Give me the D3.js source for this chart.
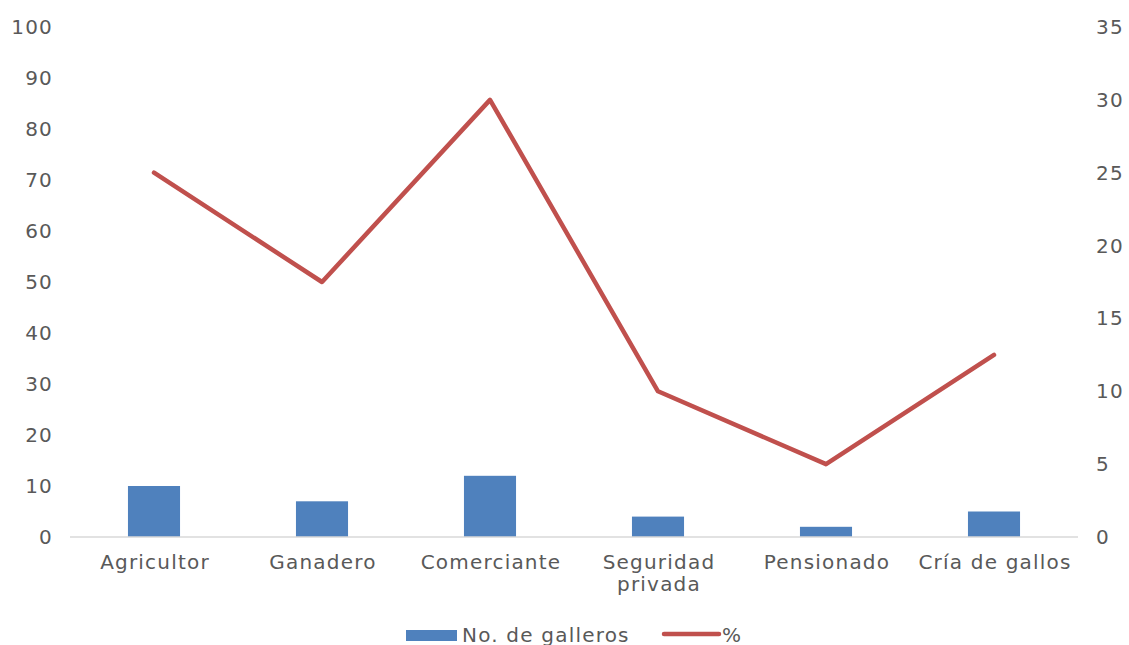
<!DOCTYPE html>
<html>
<head>
<meta charset="utf-8">
<script src="https://cdn.jsdelivr.net/npm/d3@7"></script>
<style>
  body { margin: 0; background: #fff; }
  svg text { font-family: "DejaVu Sans", sans-serif; fill: #595959; letter-spacing: 1.2px; }
</style>
</head>
<body>
<svg id="chart" width="1129" height="645"></svg>
<script>
const categories = ['Agricultor', 'Ganadero', 'Comerciante', 'Seguridad privada', 'Pensionado', 'Cría de gallos'];
const galleros = [10, 7, 12, 4, 2, 5];
const percent = [25, 17.5, 30, 10, 5, 12.5];
const leftTicks = [0, 10, 20, 30, 40, 50, 60, 70, 80, 90, 100];
const rightTicks = [0, 5, 10, 15, 20, 25, 30, 35];

const M = { top: 27, right: 51, bottom: 108, left: 70 };
const W = 1129, H = 645;
const FS = 20;
const svg = d3.select('#chart');

const x = d3.scaleBand().domain(categories).range([M.left, W - M.right]);
const yL = d3.scaleLinear().domain([0, 100]).range([H - M.bottom, M.top]);
const yR = d3.scaleLinear().domain([0, 35]).range([H - M.bottom, M.top]);
const barW = x.bandwidth() * 0.31;

// left axis labels
svg.append('g').selectAll('text').data(leftTicks).enter().append('text')
  .attr('x', 53).attr('y', d => yL(d)).attr('dy', '0.35em')
  .attr('text-anchor', 'end').attr('font-size', FS).text(d => d);

// right axis labels
svg.append('g').selectAll('text').data(rightTicks).enter().append('text')
  .attr('x', 1096).attr('y', d => yR(d)).attr('dy', '0.35em')
  .attr('text-anchor', 'start').attr('font-size', FS).text(d => d);

// bars
svg.append('g').selectAll('rect').data(categories).enter().append('rect')
  .attr('x', d => x(d) + (x.bandwidth() - barW) / 2)
  .attr('y', (d, i) => yL(galleros[i]))
  .attr('width', barW)
  .attr('height', (d, i) => yL(0) - yL(galleros[i]))
  .attr('fill', '#4f81bd');

// baseline
svg.append('line')
  .attr('x1', M.left).attr('x2', W - M.right)
  .attr('y1', yL(0)).attr('y2', yL(0))
  .attr('stroke', '#d9d9d9').attr('stroke-width', 1.5);

// category labels
const catG = svg.append('g');
categories.forEach(c => {
  const cx = x(c) + x.bandwidth() / 2 + 1;
  const t = catG.append('text')
    .attr('x', cx).attr('y', 569)
    .attr('text-anchor', 'middle').attr('font-size', FS);
  if (c === 'Seguridad privada') {
    t.append('tspan').attr('x', cx).text('Seguridad');
    t.append('tspan').attr('x', cx).attr('dy', 22).text('privada');
  } else {
    t.text(c);
  }
});

// line
const line = d3.line()
  .x((d, i) => x(categories[i]) + x.bandwidth() / 2)
  .y(d => yR(d));
svg.append('path').datum(percent)
  .attr('d', line)
  .attr('fill', 'none')
  .attr('stroke', '#c0504d')
  .attr('stroke-width', 4.5)
  .attr('stroke-linecap', 'round')
  .attr('stroke-linejoin', 'round');

// legend
const lg = svg.append('g');
lg.append('rect').attr('x', 406).attr('y', 630).attr('width', 51).attr('height', 11).attr('fill', '#4f81bd');
lg.append('text').attr('x', 462).attr('y', 642).attr('font-size', FS).text('No. de galleros');
lg.append('line').attr('x1', 664).attr('x2', 719).attr('y1', 634).attr('y2', 634)
  .attr('stroke', '#c0504d').attr('stroke-width', 4.5).attr('stroke-linecap', 'round');
lg.append('text').attr('x', 722).attr('y', 642).attr('font-size', FS).text('%');
</script>
</body>
</html>
